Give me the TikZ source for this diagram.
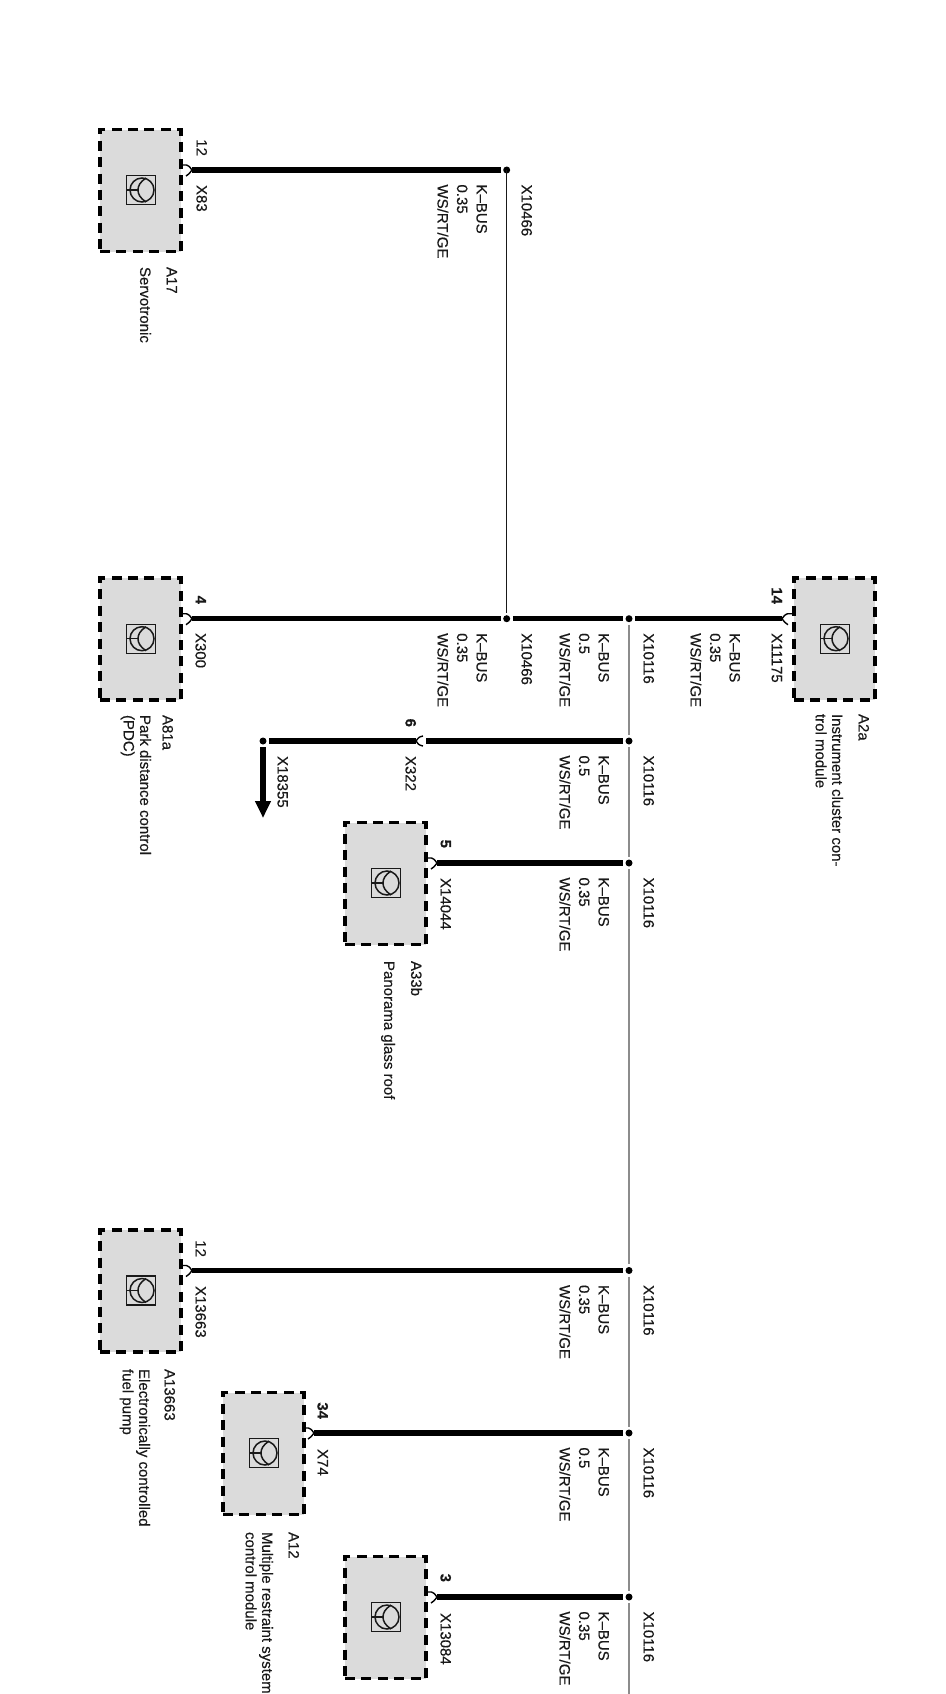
\documentclass[tikz,border=0pt]{standalone}
\usepackage{fontspec}
\setmainfont{Liberation Sans}[FakeBold=0.3]
\usetikzlibrary{arrows.meta}
\tikzset{
  unitbox/.style={draw=black,fill=black!14,line width=3.8pt,dash pattern=on 10pt off 6.4pt,
    minimum width=81pt,minimum height=122pt,inner sep=0pt,outer sep=0pt},
  iconbox/.style={draw=black!90,line width=1.4pt,minimum size=29pt,inner sep=0pt,outer sep=0pt},
  iconline/.style={draw=black!90,line width=1.5pt},
  bus/.style={draw=black,line width=5.4pt},
  trunk/.style={draw=black!45,line width=1.5pt},
  spur/.style={draw=black!90,line width=1.4pt},
  dotnode/.style={circle,fill=black,minimum size=7pt,inner sep=0pt,outer sep=2.6pt},
  pinline/.style={draw=black,line width=1.4pt},
  sideways/.style={rotate=-90,inner sep=0pt,outer sep=0pt,align=left,text=black!90,
    font=\fontsize{15}{19.5}\selectfont},
  lab/.style={sideways,anchor=north west},
  caption/.style={sideways,anchor=north west,font=\fontsize{15}{16.5}\selectfont},
  pinno/.style={sideways,anchor=north east},
  pinnob/.style={sideways,anchor=north east,font=\fontsize{15}{19.5}\selectfont\bfseries},
}
% id, centre x, wire y
\newcommand\device[3]{%
  \node[unitbox] (#1) at (#2+0.5,#3+20.5) {};
  \node[iconbox] (#1i) at (#2+1,#3+20) {};
  \draw[iconline,shift={(#1i.center)}] (1,0) circle[radius=12];
  \draw[iconline,shift={(#1i.center)}] (-14,0) -- (-3,0);
  \draw[iconline,shift={(#1i.center)}] (5,-12) .. controls (-1,-8) and (-3,-4) .. (-3,0) .. controls (-3,4) and (-1,8) .. (5,12);
}
% apex coordinate name, direction of arms (-1 left, 1 right)
\newcommand\pinmark[2]{%
  \draw[pinline,shift={(#1)},xscale=#2] (10,-5) -- (5.5,-5) .. controls (3,-4) .. (0,0) .. controls (3,4) .. (6,6);
}
% id, x of K-BUS, y, section, x of connector label, connector label
\newcommand\wirelabel[6]{%
  \node[lab] (#1w) at (#2,#3+14.5) {K--BUS\\#4\\WS/RT/GE};
  \node[lab] (#1x) at (#5,#3+14.5) {#6};
}
\begin{document}
\begin{tikzpicture}[x=1pt,y=-1pt]
\useasboundingbox[fill=white] (0,0) rectangle (945,1694);

% junctions on the trunk
\node[dotnode] (j1) at (629,618.7) {};
\node[dotnode] (j2) at (629,741) {};
\node[dotnode] (j3) at (629,863) {};
\node[dotnode] (j4) at (629,1270.5) {};
\node[dotnode] (j5) at (629,1433) {};
\node[dotnode] (j6) at (629,1597) {};
\coordinate (trunkend) at (629,1694);
\node[dotnode] (k1) at (506.7,170) {};
\node[dotnode] (k2) at (506.7,618.7) {};
\node[dotnode] (e1) at (263,741) {};
\coordinate (arrowend) at (263,818);

\draw[trunk] (j1) -- (j2);
\draw[trunk] (j2) -- (j3);
\draw[trunk] (j3) -- (j4);
\draw[trunk] (j4) -- (j5);
\draw[trunk] (j5) -- (j6);
\draw[trunk] (j6) -- (trunkend);
\draw[spur] (k1.center) -- (k2);

% devices
\device{aXVII}{140}{170}
\device{aLXXXI}{140}{618.7}
\device{aII}{834}{618.7}
\device{aXXXIII}{385}{863}
\device{aXIII}{140}{1270.5}
\device{aXII}{263}{1433}
\device{aLAST}{385}{1597}

% pins
\coordinate (p17) at (192,170);
\coordinate (p81) at (192,618.7);
\coordinate (p2) at (782,618.7);
\coordinate (p33) at (437,863);
\coordinate (p13) at (192,1270.5);
\coordinate (p12) at (314,1433);
\coordinate (pl) at (437,1597);
\coordinate (p322a) at (416,741);
\coordinate (p322b) at (426,741);

\pinmark{p17}{-1}
\pinmark{p81}{-1}
\pinmark{p2}{1}
\pinmark{p33}{-1}
\pinmark{p13}{-1}
\pinmark{p12}{-1}
\pinmark{pl}{-1}
\draw[pinline,shift={(p322a)}] (7,-5) .. controls (3,-4) .. (0,0) .. controls (3,4) .. (7,5);

% wires
\draw[bus] (p17) -- (k1);
\draw[bus] (p81) -- (k2);
\draw[bus] (k2) -- (j1);
\draw[bus] (j1) -- (p2);
\draw[bus] (e1) -- (p322a);
\draw[bus] (p322b) -- (j2);
\draw[bus] (p33) -- (j3);
\draw[bus] (p13) -- (j4);
\draw[bus] (p12) -- (j5);
\draw[bus] (pl) -- (j6);
\draw[draw=black,line width=6pt,-{Triangle[length=17pt,width=15pt]}] (e1) -- (arrowend);

% wire labels
\wirelabel{lA}{487}{170}{0.35}{532}{X10466}
\wirelabel{lB}{487}{618.7}{0.35}{532}{X10466}
\wirelabel{lC}{609}{618.7}{0.5}{654}{X10116}
\wirelabel{lE}{609}{741}{0.5}{654}{X10116}
\wirelabel{lF}{609}{863}{0.35}{654}{X10116}
\wirelabel{lG}{609}{1270.5}{0.35}{654}{X10116}
\wirelabel{lH}{609}{1433}{0.5}{654}{X10116}
\wirelabel{lI}{609}{1597}{0.35}{654}{X10116}
\wirelabel{lD}{740}{618.7}{0.35}{782}{X11175}

% pin numbers and connectors
\node[pinno] (n1) at (207,156) {12};
\node[lab] (c1) at (207,185) {X83};
\node[pinnob] (n2) at (206,604) {4};
\node[lab] (c2) at (206,633) {X300};
\node[pinnob] (n4) at (416,727) {6};
\node[lab] (c4) at (416,756) {X322};
\node[lab] (c4b) at (288,756) {X18355};
\node[pinnob] (n5) at (451,848) {5};
\node[lab] (c5) at (451,878) {X14044};
\node[pinno] (n6) at (206,1257) {12};
\node[lab] (c6) at (206,1286) {X13663};
\node[pinnob] (n7) at (328,1419) {34};
\node[lab] (c7) at (328,1449) {X74};
\node[pinnob] (n8) at (451,1582) {3};
\node[lab] (c8) at (451,1613) {X13084};
\node[pinnob] (n3) at (782,604) {14};

% device captions
\node[lab] (t1a) at (177,267) {A17};
\node[caption] (t1b) at (151,267) {Servotronic};
\node[lab] (t2a) at (173,715) {A81a};
\node[caption] (t2b) at (151,715) {Park distance control\\(PDC)};
\node[lab] (t3a) at (869,714) {A2a};
\node[caption] (t3b) at (843,714) {Instrument cluster con-\\trol module};
\node[lab] (t4a) at (422,961) {A33b};
\node[caption] (t4b) at (395,961) {Panorama glass roof};
\node[lab] (t5a) at (175,1369) {A13663};
\node[caption] (t5b) at (150,1369) {Electronically controlled\\fuel pump};
\node[lab] (t6a) at (299,1532) {A12};
\node[caption] (t6b) at (273,1532) {Multiple restraint system\\control module};
\end{tikzpicture}
\end{document}
